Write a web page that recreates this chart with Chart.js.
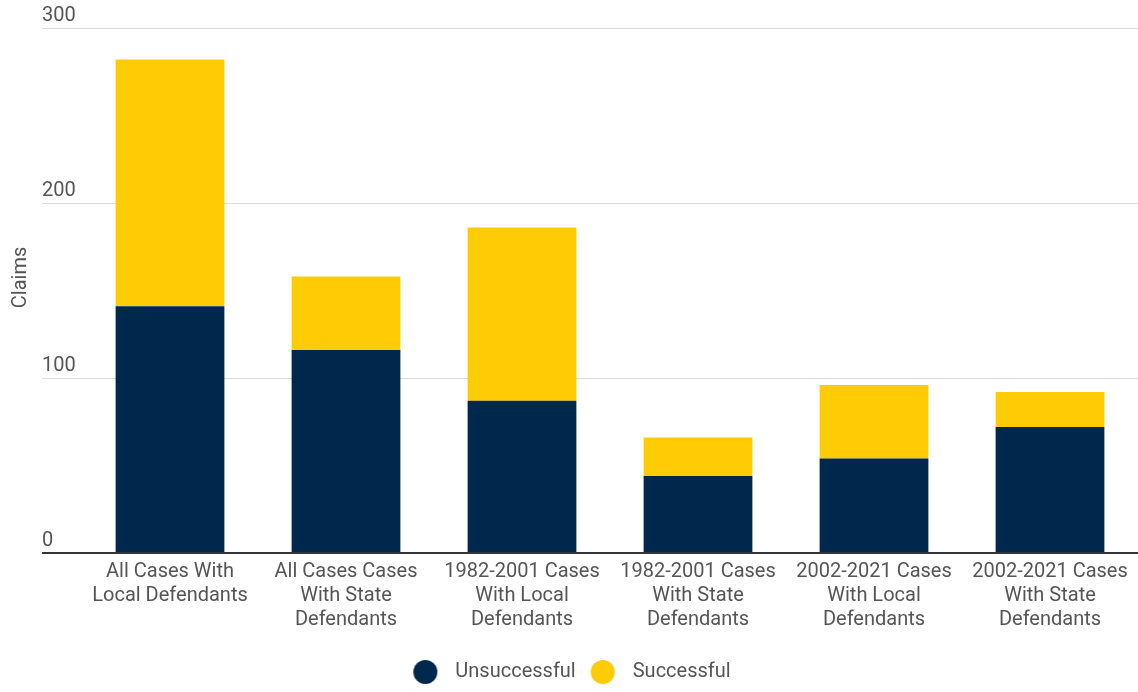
<!DOCTYPE html>
<html>
<head>
<meta charset="utf-8">
<title>Claims by defendant type</title>
<script src="https://cdn.jsdelivr.net/npm/chart.js@4.4.1/dist/chart.umd.min.js"></script>
<style>
  html, body { margin: 0; padding: 0; background: #ffffff; }
  #wrap { position: relative; width: 1138px; height: 692px; }
</style>
</head>
<body>
<div id="wrap"><canvas id="chart"></canvas></div>
<script>
// Category labels (one line per array entry)
const categories = [
  ["All Cases With", "Local Defendants"],
  ["All Cases Cases", "With State", "Defendants"],
  ["1982-2001 Cases", "With Local", "Defendants"],
  ["1982-2001 Cases", "With State", "Defendants"],
  ["2002-2021 Cases", "With Local", "Defendants"],
  ["2002-2021 Cases", "With State", "Defendants"]
];

// Claims per category
const unsuccessful = [141, 116, 87, 44, 54, 72];
const successful   = [141, 42, 99, 22, 42, 20];

// Value axis ticks
const yTickValues = [0, 100, 200, 300];
const yAxisTitle = "Claims";

const NAVY = "#00274C";
const MAIZE = "#FFCB05";
const TEXT = "#555555";
const FONT = "Roboto, 'Open Sans', sans-serif";

// Round legend marker, with a little blank space on each side
function legendDot(color) {
  const c = document.createElement("canvas");
  c.width = 38; c.height = 24;
  const g = c.getContext("2d");
  g.fillStyle = color;
  g.beginPath();
  g.arc(18, 12, 12, 0, Math.PI * 2);
  g.fill();
  return c;
}
const dots = [legendDot(NAVY), legendDot(MAIZE)];

// Rotated value-axis title
const axisTitlePlugin = {
  id: "axisTitle",
  afterDraw(chart) {
    const { ctx, chartArea } = chart;
    ctx.save();
    ctx.translate(21, (chartArea.top + chartArea.bottom) / 2 - 13);
    ctx.rotate(-Math.PI / 2);
    ctx.font = "20px " + FONT;
    ctx.fillStyle = TEXT;
    ctx.textAlign = "center";
    ctx.textBaseline = "middle";
    ctx.fillText(yAxisTitle, 0, 0);
    ctx.restore();
  }
};

new Chart(document.getElementById("chart"), {
  type: "bar",
  data: {
    labels: categories,
    datasets: [
      { label: "Unsuccessful", data: unsuccessful, backgroundColor: NAVY, borderWidth: 0 },
      { label: "Successful", data: successful, backgroundColor: MAIZE, borderWidth: 0 }
    ]
  },
  options: {
    responsive: true,
    maintainAspectRatio: false,
    animation: false,
    layout: { padding: { top: 28, right: 0, bottom: 0, left: 0 } },
    datasets: { bar: { categoryPercentage: 1.0, barPercentage: 0.618 } },
    plugins: {
      tooltip: { enabled: false },
      legend: {
        position: "bottom",
        labels: {
          font: { family: FONT, size: 20 },
          color: TEXT,
          usePointStyle: true,
          pointStyleWidth: 38,
          padding: 9,
          generateLabels(chart) {
            const items = Chart.defaults.plugins.legend.labels.generateLabels(chart);
            items.forEach((it, i) => { it.pointStyle = dots[i]; it.lineWidth = 0; });
            return items;
          }
        }
      }
    },
    scales: {
      x: {
        stacked: true,
        grid: { display: false, drawTicks: false },
        border: { display: false },
        afterFit(scale) { scale.height += 14; },
        ticks: {
          font: { family: FONT, size: 20, lineHeight: 1.2 },
          color: TEXT,
          padding: 7,
          maxRotation: 0,
          autoSkip: false
        }
      },
      y: {
        stacked: true,
        min: 0,
        max: 300,
        afterBuildTicks(scale) { scale.ticks = yTickValues.map(v => ({ value: v })); },
        afterFit(scale) { scale.width = 82; },
        border: { display: false },
        grid: {
          drawTicks: true,
          tickLength: 40,
          color: ctx => (ctx.tick && ctx.tick.value === 0) ? "#333333" : "#dcdcdc",
          lineWidth: ctx => (ctx.tick && ctx.tick.value === 0) ? 2 : 1
        },
        ticks: {
          mirror: true,
          crossAlign: "near",
          padding: -40,
          labelOffset: -12,
          font: { family: FONT, size: 20 },
          color: TEXT,
          callback: v => String(v)
        }
      }
    }
  },
  plugins: [axisTitlePlugin]
});
</script>
</body>
</html>
